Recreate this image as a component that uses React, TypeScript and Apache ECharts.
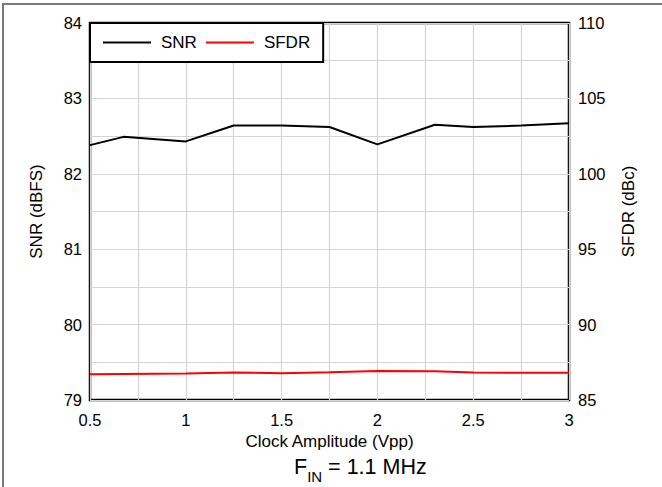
import React, { useEffect, useRef } from 'react';
import * as echarts from 'echarts';

const clockAmplitude = [0.5, 0.675, 1.0, 1.25, 1.5, 1.75, 2.0, 2.3, 2.5, 2.75, 3.0];
const snr = [82.38, 82.49, 82.43, 82.64, 82.64, 82.62, 82.39, 82.65, 82.62, 82.64, 82.67];
const sfdr = [86.70, 86.72, 86.76, 86.83, 86.77, 86.84, 86.92, 86.90, 86.83, 86.80, 86.80];

const FONT = '"Liberation Sans", Arial, sans-serif';

export default function App() {
  const ref = useRef<HTMLDivElement>(null);
  useEffect(() => {
    if (!ref.current) return;
    const chart = echarts.init(ref.current, undefined, { renderer: 'svg' });
    const grid = '#d4d4d4';
    chart.setOption({
      animation: false,
      backgroundColor: '#fff',
      textStyle: { fontFamily: FONT },
      grid: { left: 90, right: 93, top: 23, bottom: 87, show: true, borderColor: '#000', borderWidth: 2.5, backgroundColor: 'transparent' },
      legend: {
        left: 90,
        top: 23,
        padding: [11, 13, 11, 13],
        itemGap: 9,
        itemWidth: 48,
        itemHeight: 2,
        icon: 'rect',
        backgroundColor: '#fff',
        borderColor: '#000',
        borderWidth: 2,
        borderRadius: 0,
        textStyle: { fontFamily: FONT, fontSize: 17, color: '#000', padding: [0, 0, 0, 5], lineHeight: 17 },
        data: [
          { name: 'SNR', itemStyle: { color: '#000' } },
          { name: 'SFDR', itemStyle: { color: '#ff0000' } },
        ],
        z: 10,
      },
      xAxis: {
        type: 'value',
        min: 0.5,
        max: 3,
        interval: 0.25,
        name: 'Clock Amplitude (Vpp)',
        nameLocation: 'middle',
        nameGap: 30,
        nameTextStyle: { fontFamily: FONT, fontSize: 17, color: '#000' },
        axisLine: { show: false },
        axisTick: { show: false },
        axisLabel: {
          fontFamily: FONT, fontSize: 16.5, color: '#000', margin: 11,
          formatter: (v: number) => (Math.round(v * 100) % 50 === 0 ? String(v) : ''),
        },
        splitLine: { show: true, lineStyle: { color: grid, width: 1.2 } },
      },
      yAxis: [
        {
          type: 'value',
          min: 79,
          max: 84,
          interval: 0.5,
          name: 'SNR (dBFS)',
          nameLocation: 'middle',
          nameGap: 45,
          nameTextStyle: { fontFamily: FONT, fontSize: 17, color: '#000' },
          axisLine: { show: false },
          axisTick: { show: false },
          axisLabel: {
            fontFamily: FONT, fontSize: 16.5, color: '#000', margin: 8,
            formatter: (v: number) => (Math.abs(v - Math.round(v)) < 1e-6 ? String(Math.round(v)) : ''),
          },
          splitLine: { show: true, lineStyle: { color: grid, width: 1.2 } },
        },
        {
          type: 'value',
          min: 85,
          max: 110,
          interval: 5,
          name: 'SFDR (dBc)',
          nameLocation: 'middle',
          nameGap: 51,
          nameTextStyle: { fontFamily: FONT, fontSize: 17, color: '#000' },
          axisLine: { show: false },
          axisTick: { show: false },
          axisLabel: { fontFamily: FONT, fontSize: 16.5, color: '#000', margin: 9 },
          splitLine: { show: false },
        },
      ],
      series: [
        {
          name: 'SNR',
          type: 'line',
          yAxisIndex: 0,
          symbol: 'none',
          lineStyle: { color: '#000', width: 2 },
          itemStyle: { color: '#000' },
          data: clockAmplitude.map((x, i) => [x, snr[i]]),
          z: 3,
        },
        {
          name: 'SFDR',
          type: 'line',
          yAxisIndex: 1,
          symbol: 'none',
          lineStyle: { color: '#ff0000', width: 2 },
          itemStyle: { color: '#ff0000' },
          data: clockAmplitude.map((x, i) => [x, sfdr[i]]),
          z: 3,
        },
      ],
      graphic: [
        {
          type: 'polyline',
          shape: { points: [[3, 490], [3, 4], [665, 4]] },
          style: { stroke: '#7a7a7a', lineWidth: 2, fill: 'none' },
          silent: true,
        },
        {
          type: 'text',
          left: 294,
          top: 456,
          style: {
            text: '{f|F}{s|IN}{f| = 1.1 MHz}',
            rich: {
              f: { fontFamily: FONT, fontSize: 21.5, fill: '#000', verticalAlign: 'bottom' },
              s: { fontFamily: FONT, fontSize: 15, fill: '#000', verticalAlign: 'bottom', padding: [0, 0, -6, 0] },
            },
          },
        },
      ],
    });
    return () => chart.dispose();
  }, []);
  return <div ref={ref} style={{ position: 'fixed', left: 0, top: 0, width: 662, height: 487 }} />;
}
